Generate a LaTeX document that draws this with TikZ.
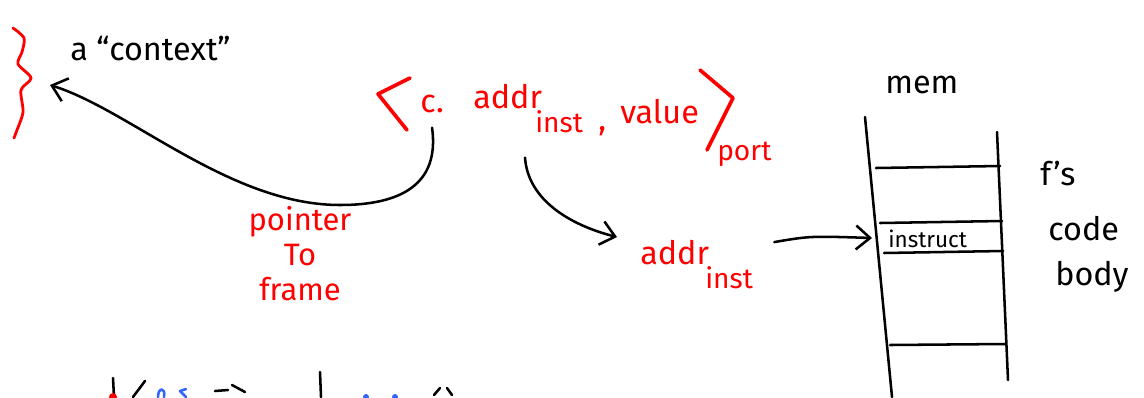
\documentclass[tikz,border=0pt]{standalone}
\usepackage{fontspec}
\setmainfont{Fira Sans}
\usetikzlibrary{arrows.meta,calc}
\definecolor{penblue}{RGB}{51,102,255}

\begin{document}
\begin{tikzpicture}[x=0.025cm,y=-0.025cm,
  hand/.style={inner sep=0pt,anchor=base west,font=\fontsize{23}{26}\selectfont},
  small/.style={font=\fontsize{20}{22}\selectfont},
  ink/.style={line width=1.8pt,line cap=round,line join=round},
  arr/.style={ink,-{Straight Barb[length=10pt,width=17pt]}},
  redpen/.style={ink,red,line width=2.6pt}]
\useasboundingbox (0,0) rectangle (1144,397);

% the context
\draw[redpen,line width=2pt] plot[smooth] coordinates {(13,28)(24,38)(22,52)(18,64)(31,78)(21,90)(23,112)(17,130)(14,138)};
\node[hand] (ctxlabel) at (70,60) {a ``context''};
\coordinate (ctx) at (50,85);

% message on a port
\draw[redpen] (410,78) -- (378,94) -- (407,130);
\node[hand,red] (cfield) at (420,112) {c.};
\node[hand,red] (addrfield) at (473,108) {addr};
\node[hand,red,small] (inst) at (535,132) {inst};
\node[hand,red] (comma) at (598,130) {,};
\node[hand,red] (value) at (620,123) {value};
\draw[redpen] (700,70) -- (733,98) -- (707,150);
\node[hand,red,small] (port) at (717,160) {port};

% c points back to the frame
\draw[arr] ($(cfield.south)+(0,15)$) .. controls (440,185) and (400,205) .. (340,205)
  .. controls (230,205) and (130,110) .. (ctx);
\node[red,inner sep=0pt,anchor=north,align=center,font=\fontsize{22}{25}\selectfont] (ptrlabel) at (300,206) {pointer\\To\\frame};

% the instruction address
\node[hand,red] (addr2) at (640,264) {addr};
\node[hand,red,small] (inst2) at (705,288) {inst};
\draw[arr] ($(inst.south west)+(-10,25)$) .. controls (528,200) and (570,225) .. ($(addr2.west)+(-23,-15)$);

% memory
\node[hand] (mem) at (885,93) {mem};
\draw[ink] (865,117) -- (892,397);
\draw[ink] (997,132) -- (1008,380);
\draw[ink] (876,168) -- (1000,166);
\draw[ink] (880,223) -- (1002,221);
\draw[ink] (884,253) -- (1003,251);
\draw[ink] (890,345) -- (1005,344);
\node[hand,font=\fontsize{16}{18}\selectfont] (instr) at (888,247) {instruct};
\coordinate (slot) at (872,238);
\draw[arr] ($(addr2.east)+(65,-10)$) .. controls (810,236) .. (slot);

\node[hand] (fs) at (1040,185) {f's};
\node[hand] (code) at (1048,240) {code};
\node[hand] (body) at (1055,285) {body};

% next line, cut off
\draw[ink] (113,378) -- (114,397);
\fill[red] (113,397) circle (4);
\draw[ink] (145,381) -- (133,397);
\draw[ink,penblue] (158,397) .. controls (158,387) and (166,387) .. (164,397);
\draw[ink,penblue] (186,389) -- (180,391) -- (186,397);
\draw[ink] (215,391) -- (228,390);
\draw[ink] (232,385) -- (245,392);
\draw[ink] (320,372) -- (321,397);
\fill[penblue] (366,397) circle (3);
\fill[penblue] (395,397) circle (3);
\draw[ink] (440,388) -- (434,395);
\draw[ink] (447,388) -- (452,395);
\end{tikzpicture}
\end{document}
